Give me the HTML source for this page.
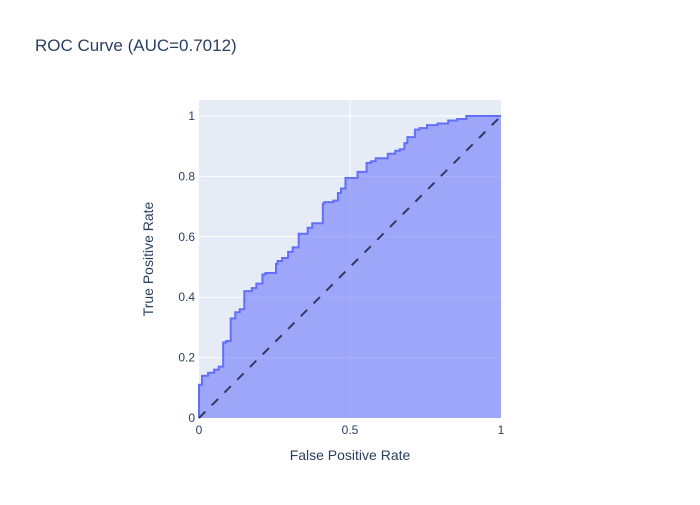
<!DOCTYPE html>
<html><head><meta charset="utf-8"><style>
body{margin:0;background:#fff;font-family:"Liberation Sans",sans-serif}
svg text{font-family:"Liberation Sans",sans-serif;fill:#2a3f5f}
</style></head><body>
<svg id="chart" width="700" height="500" xmlns="http://www.w3.org/2000/svg">
<rect width="700" height="500" fill="#fff"/>
<text x="35" y="51" font-size="17">ROC Curve (AUC=0.7012)</text>
<rect x="199" y="100" width="302" height="318" fill="#e5ecf6"/>
<g id="grid"></g>
<g id="marks"></g>
<g id="ticks"></g>
<text x="350" y="460" font-size="14" text-anchor="middle">False Positive Rate</text>
<text transform="translate(153,259) rotate(-90)" font-size="14" text-anchor="middle">True Positive Rate</text>
</svg>
<script>
const fpr=[0,0,0.01,0.03,0.05,0.065,0.08,0.09,0.105,0.12,0.135,0.15,0.175,0.19,0.21,0.22,0.255,0.26,0.275,0.295,0.31,0.33,0.36,0.375,0.41,0.415,0.445,0.46,0.47,0.485,0.525,0.555,0.57,0.585,0.625,0.65,0.665,0.68,0.69,0.715,0.73,0.755,0.79,0.825,0.855,0.885,1];
const tpr=[0,0.11,0.14,0.15,0.16,0.17,0.25,0.255,0.33,0.35,0.36,0.42,0.43,0.445,0.475,0.48,0.51,0.52,0.53,0.55,0.565,0.61,0.63,0.645,0.71,0.715,0.72,0.745,0.76,0.795,0.815,0.845,0.85,0.86,0.875,0.885,0.89,0.91,0.93,0.955,0.96,0.97,0.975,0.985,0.99,1,1];
const xTicks=[0,0.5,1];
const xTickLabels=["0","0.5","1"];
const yTicks=[0,0.2,0.4,0.6,0.8,1];
const yTickLabels=["0","0.2","0.4","0.6","0.8","1"];
const X0=199,X1=501,Y0=418,Y1=100,YMAX=1.053;
const sx=v=>X0+v*(X1-X0);
const sy=v=>Y0-v/YMAX*(Y0-Y1);
const NS="http://www.w3.org/2000/svg";
function mk(tag,attrs,parent){const e=document.createElementNS(NS,tag);for(const k in attrs)e.setAttribute(k,attrs[k]);parent.appendChild(e);return e;}
const grid=document.getElementById('grid'),marks=document.getElementById('marks'),ticks=document.getElementById('ticks');
yTicks.forEach((t,i)=>{
  if(t>0){const l=mk('line',{x1:X0,x2:X1,y1:sy(t),y2:sy(t),stroke:'#fff','stroke-width':1},grid);
  
  }
  const tx=mk('text',{x:X0-4,y:sy(t)+4,'font-size':12,'text-anchor':'end'},ticks);
  tx.textContent=yTickLabels[i];
  
  
});
xTicks.forEach((t,i)=>{
  if(t>0&&t<1){const l=mk('line',{x1:sx(t),x2:sx(t),y1:Y1,y2:Y0,stroke:'#fff','stroke-width':1},grid);
  
  }
  const tx=mk('text',{x:sx(t),y:Y0+16,'font-size':12,'text-anchor':'middle'},ticks);
  tx.textContent=xTickLabels[i];
  
  
});
let d='M'+sx(fpr[0])+','+sy(tpr[0]);
for(let i=1;i<fpr.length;i++){d+=' L'+sx(fpr[i])+','+sy(tpr[i-1])+' L'+sx(fpr[i])+','+sy(tpr[i]);}
const area=mk('path',{d:d+' L'+sx(1)+','+sy(0)+' Z',fill:'rgba(99,110,250,0.55)',stroke:'none'},marks);


const line=mk('path',{d:d,fill:'none',stroke:'#636efa','stroke-width':2},marks);


const diag=mk('line',{x1:sx(0),y1:sy(0),x2:sx(1),y2:sy(1),stroke:'#2a3f5f','stroke-width':2,'stroke-dasharray':'9,9'},marks);


</script>
</body></html>
